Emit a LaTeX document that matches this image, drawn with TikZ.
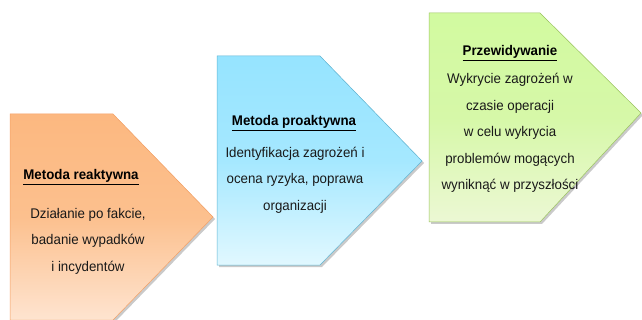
\documentclass[tikz,border=0pt]{standalone}
\usepackage{fontspec}
\setmainfont{Liberation Sans}[FakeStretch=0.95]
\usetikzlibrary{shadows}
\definecolor{orTop}{RGB}{252,184,128}
\definecolor{orMid}{RGB}{252,192,142}
\definecolor{orBot}{RGB}{254,228,208}
\definecolor{orLine}{RGB}{245,160,100}
\definecolor{blTop}{RGB}{150,228,255}
\definecolor{blMid}{RGB}{165,232,255}
\definecolor{blBot}{RGB}{225,248,255}
\definecolor{blLine}{RGB}{95,180,210}
\definecolor{grTop}{RGB}{210,250,160}
\definecolor{grMid}{RGB}{214,248,168}
\definecolor{grBot}{RGB}{236,248,212}
\definecolor{grLine}{RGB}{155,195,95}
\tikzset{
  arrowbox/.style={line width=0.5pt, drop shadow={shadow xshift=2pt, shadow yshift=-2pt, opacity=0.35, fill=black!60}},
  ttl/.style={font=\fontsize{14}{16}\selectfont\bfseries, inner sep=0pt, text=black},
  bodytxt/.style={font=\fontsize{14}{26.5}\selectfont, align=center, inner sep=0pt, text=black!90},
}
\newcommand{\ul}[1]{\underline{#1}}
\begin{document}
\begin{tikzpicture}[x=1pt,y=-1pt]
\useasboundingbox (0,0) rectangle (642,320);
% orange
\path[arrowbox, draw=orLine, top color=orTop, bottom color=orBot, middle color=orMid]
  (10,114) -- (113,114) -- (213,217) -- (113,320) -- (10,320) -- cycle;
% blue
\path[arrowbox, draw=blLine, top color=blTop, bottom color=blBot, middle color=blMid]
  (217,56) -- (320,56) -- (422,161) -- (320,265) -- (217,265) -- cycle;
% green
\path[arrowbox, draw=grLine, top color=grTop, bottom color=grBot, middle color=grMid]
  (429,13) -- (540,13) -- (641,113) -- (540,222) -- (429,222) -- cycle;

\node[ttl] (t1) at (81,177) {\ul{Metoda reaktywna}};
\node[bodytxt] (b1) at (88,241) {Działanie po fakcie,\\badanie wypadków\\i incydentów};

\node[ttl] (t2) at (294,123) {\ul{Metoda proaktywna}};
\node[bodytxt] (b2) at (295,180) {Identyfikacja zagrożeń i\\ocena ryzyka, poprawa\\organizacji};

\node[ttl] (t3) at (510,53) {\ul{Przewidywanie}};
\node[bodytxt] (b3) at (510,133) {Wykrycie zagrożeń w\\czasie operacji\\w celu wykrycia\\problemów mogących\\wyniknąć w przyszłości};
\end{tikzpicture}
\end{document}
